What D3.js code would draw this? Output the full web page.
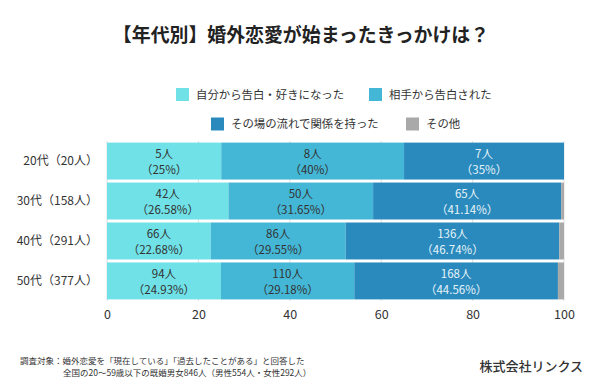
<!DOCTYPE html>
<html><head><meta charset="utf-8">
<script src="https://cdn.jsdelivr.net/npm/d3@7"></script>
<style>
html,body{margin:0;padding:0;background:#fff;}
svg{display:block;font-family:"Noto Sans CJK JP","Noto Sans",sans-serif;}
</style></head>
<body><svg id="c" width="600" height="390"></svg>
<script>
const title = "【年代別】婚外恋愛が始まったきっかけは？";
const categories = ["20代（20人）", "30代（158人）", "40代（291人）", "50代（377人）"];
const seriesNames = ["自分から告白・好きになった", "相手から告白された", "その場の流れで関係を持った", "その他"];
const colors = ["#6fe1e7", "#44b7d7", "#2a8abd", "#a9a9a9"];
const counts = [
  [5, 8, 7, 0],
  [42, 50, 65, 1],
  [66, 86, 136, 3],
  [94, 110, 168, 5]
];
const percents = [
  [25, 40, 35, 0],
  [26.58, 31.65, 41.14, 0.63],
  [22.68, 29.55, 46.74, 1.03],
  [24.93, 29.18, 44.56, 1.33]
];
const ticks = [0, 20, 40, 60, 80, 100];
const footer1 = "調査対象：婚外恋愛を「現在している」「過去したことがある」と回答した";
const footer2 = "全国の20〜59歳以下の既婚男女846人（男性554人・女性292人）";
const company = "株式会社リンクス";

const svg = d3.select("#c");
svg.append("rect").attr("width",600).attr("height",390).attr("fill","#fff");

const x = d3.scaleLinear().domain([0,100]).range([107,564]);
const y = d3.scaleBand().domain(categories).range([141,301]).paddingInner(0.075).paddingOuter(0.04);

// title
svg.append("text").attr("x",301).attr("y",42).attr("text-anchor","middle")
  .attr("font-size",18.9).attr("font-weight",700).attr("fill","#222").text(title);

// legend
const legendRows = [
  [{i:0,x:176},{i:1,x:369}],
  [{i:2,x:211},{i:3,x:406}]
];
const legendY = [94.5, 124];
legendRows.forEach((row,r)=>{
  row.forEach(d=>{
    svg.append("rect").attr("x",d.x).attr("y",legendY[r]-6.5).attr("width",13).attr("height",13).attr("fill",colors[d.i]);
    svg.append("text").attr("x",d.x+20).attr("y",legendY[r]+4).attr("font-size",11.4).attr("fill","#333").text(seriesNames[d.i]);
  });
});

// gridlines
svg.append("g").selectAll("line").data(ticks).join("line")
  .attr("x1",d=>x(d)).attr("x2",d=>x(d)).attr("y1",141).attr("y2",301)
  .attr("stroke","#e0e0e0").attr("stroke-width",1);

// bars
const rows = categories.map((c,ri)=>{
  let acc = 0;
  return percents[ri].map((p,si)=>{ const s = {cat:c,ri,si,x0:acc,x1:acc+p,p,n:counts[ri][si]}; acc+=p; return s; });
});
const g = svg.append("g");
rows.forEach(segs=>{
  g.selectAll(null).data(segs.filter(s=>s.p>0)).join("rect")
    .attr("x",d=>x(d.x0)).attr("width",d=>x(d.x1)-x(d.x0))
    .attr("y",d=>y(d.cat)).attr("height",y.bandwidth())
    .attr("fill",d=>colors[d.si]);
  const lab = g.selectAll(null).data(segs.filter(s=>s.si<3)).join("text")
    .attr("text-anchor","middle").attr("font-size",11.5)
    .attr("fill",d=>d.si===2?"#e6f3f9":"#333");
  lab.append("tspan").attr("x",d=>x((d.x0+d.x1)/2)).attr("y",d=>y(d.cat)+y.bandwidth()/2-3).text(d=>d.n+"人");
  lab.append("tspan").attr("x",d=>x((d.x0+d.x1)/2)).attr("y",d=>y(d.cat)+y.bandwidth()/2+13).text(d=>"（"+d.p+"%）");
});

// y axis labels
svg.append("g").selectAll("text").data(categories).join("text")
  .attr("x",98).attr("y",d=>y(d)+y.bandwidth()/2+4).attr("text-anchor","end")
  .attr("font-size",12).attr("fill","#333").text(d=>d);

// x axis
const xa = svg.append("g").attr("transform","translate(0,301)")
  .call(d3.axisBottom(x).tickValues(ticks).tickSize(0).tickPadding(9).tickFormat(d3.format("d")));
xa.select(".domain").remove();
xa.selectAll("text").attr("font-size",12.5).attr("fill","#333").attr("font-family","Noto Sans CJK JP, sans-serif");

// footer
svg.append("text").attr("x",20).attr("y",364).attr("font-size",8.5).attr("fill","#333").text(footer1);
svg.append("text").attr("x",63).attr("y",376).attr("font-size",8.5).attr("fill","#333").text(footer2);
svg.append("text").attr("x",583).attr("y",371).attr("text-anchor","end").attr("font-size",13).attr("font-weight",500).attr("fill","#333").text(company);
</script></body></html>
